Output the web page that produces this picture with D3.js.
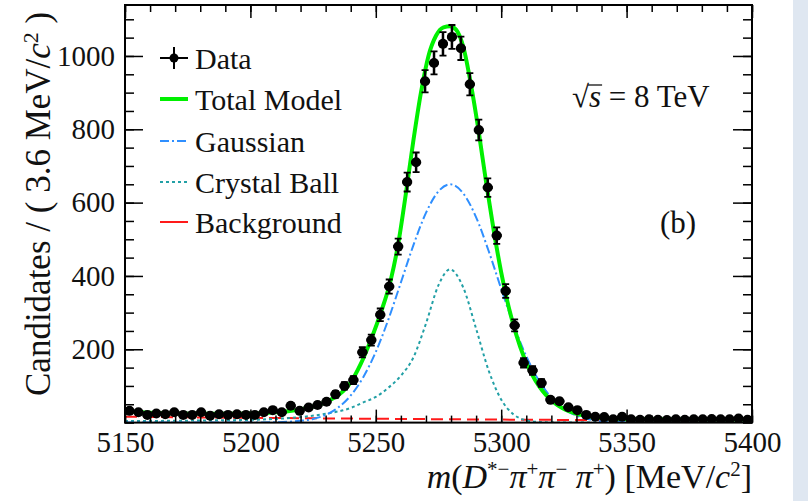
<!DOCTYPE html>
<html><head><meta charset="utf-8">
<script src="https://cdn.jsdelivr.net/npm/d3@7/dist/d3.min.js"></script>
<style>
body{margin:0;background:#fff;}
svg{display:block;}
text{font-family:"Liberation Serif","Times New Roman",serif;fill:#111;}
</style>
</head><body>
<svg id="c" width="808" height="501"></svg>
<script>
// ---------------- data ----------------
const massRange = [5150, 5400];
const nBins = 70;
const dataCounts = [32,28,21,25,23,28,21,21,28,19,
                    23,21,23,21,21,28,34,28,46,32,
                    41,48,57,77,100,116,192,225,294,371,
                    480,656,710,931,981,1033,1052,1021,923,798,
                    641,510,359,265,163,142,108,62,58,42,
                    34,21,16,15,9,16,9,8,9,8,
                    7,9,8,9,9,10,9,9,11,8];
const totalMass = [5150,5160,5170,5180,5190,5200,5205,5210,5215,5220,5225,5230,5234,5237,5240,5244,5248,5252,5256,5259,5262,5265,5268,5271,5274,5277,5279.6,5282,5285,5288,5291,5294,5297,5300,5303,5306,5309,5312,5315,5318,5321,5324,5327,5330,5334,5338,5342,5350,5370,5400];
const totalVals = [31,27,25,24,24,25,26,28,31,36,44,56,70,86,110,160,225,300,390,490,625,770,900,1000,1055,1078,1081,1072,1022,920,795,655,525,410,315,240,180,135,100,74,55,41,31,24,18,14,12,10,9,8];
const gaussMass = [5150,5195,5200,5210,5220,5225,5230,5235,5240,5245,5250,5255,5260,5265,5270,5275,5279.6,5285,5290,5295,5300,5305,5310,5315,5320,5325,5330,5335,5340,5350,5360,5400];
const gaussVals = [0,0,0.2,1,5,10,21,41,74,124,193,281,382,484,572,631,650,624,560,468,365,266,181,115,68,37,19,9,4,1,0,0];
const cbMass = [5150,5170,5190,5200,5210,5220,5230,5240,5245,5250,5255,5260,5265,5270,5275,5279.6,5285,5290,5295,5300,5305,5310,5315,5320,5330,5400];
const cbVals = [4,5,6.5,7.5,10,15,24,40,55,70,95,128,178,270,375,418,366,256,142,63,22,6,1.5,0.3,0,0];
const bkgMass = [5150,5200,5250,5300,5350,5400];
const bkgVals = [16,13,10.5,8.2,6.5,5.2];
const xTickVals = [5150,5200,5250,5300,5350,5400];
const yTickVals = [200,400,600,800,1000];
const legendLabels = ["Data","Total Model","Gaussian","Crystal Ball","Background"];

// ---------------- drawing ----------------
const svg = d3.select("#c");
const L = 125, R = 752, T = 5, B = 422.6;
const x = d3.scaleLinear().domain(massRange).range([L, R]);
const y = d3.scaleLinear().domain([0, 1139]).range([B, T]);

svg.append("rect").attr("x",793).attr("y",0).attr("width",15).attr("height",501).attr("fill","#dfe7f1");

svg.append("clipPath").attr("id","clip").append("rect")
  .attr("x",L).attr("y",T).attr("width",R-L).attr("height",B-T);
const plot = svg.append("g").attr("clip-path","url(#clip)");

function curve(ms, vs, color, width, dash){
  const pts = ms.map((m,i)=>[m, vs[i]]);
  plot.append("path").datum(pts)
    .attr("d", d3.line().x(d=>x(d[0])).y(d=>y(d[1])).curve(d3.curveMonotoneX))
    .attr("fill","none").attr("stroke",color).attr("stroke-width",width)
    .attr("stroke-dasharray",dash||null);
}
const colGreen = "#00f000", colBlue = "#2f8fff", colTeal = "#22a0a6", colRed = "#ff1a1a";
curve(bkgMass, bkgVals, colRed, 2, "12,6");
curve(cbMass, cbVals, colTeal, 2, "3,3");
curve(gaussMass, gaussVals, colBlue, 2, "9,3,2,3");
curve(totalMass, totalVals, colGreen, 4);

// data points
const bw = (massRange[1]-massRange[0])/nBins;
const pts = dataCounts.map((c,i)=>({m: massRange[0]+(i+0.5)*bw, lo: massRange[0]+i*bw, hi: massRange[0]+(i+1)*bw, c}));
const dg = plot.append("g");
pts.forEach(p=>{
  const e = Math.sqrt(p.c);
  const cx = x(p.m);
  const yt = y(p.c+e), yb = y(Math.max(0,p.c-e));
  dg.append("line").attr("x1",x(p.lo)-0.5).attr("x2",x(p.hi)+0.5).attr("y1",y(p.c)).attr("y2",y(p.c)).attr("stroke","#000").attr("stroke-width",3);
  dg.append("line").attr("x1",cx).attr("x2",cx).attr("y1",yt).attr("y2",yb).attr("stroke","#000").attr("stroke-width",2.5);
  dg.append("line").attr("x1",cx-3.5).attr("x2",cx+3.5).attr("y1",yt).attr("y2",yt).attr("stroke","#000").attr("stroke-width",1.8);
  dg.append("line").attr("x1",cx-3.5).attr("x2",cx+3.5).attr("y1",yb).attr("y2",yb).attr("stroke","#000").attr("stroke-width",1.8);
  dg.append("circle").attr("cx",cx).attr("cy",y(p.c)).attr("r",5).attr("fill","#000");
});

// axes
function styleAxis(g){ g.select(".domain").remove(); g.selectAll(".tick line").attr("stroke","#000").attr("stroke-width",1.5);
  g.selectAll("text").attr("font-size",29).attr("fill","#111").attr("font-family",'"Liberation Serif","Times New Roman",serif'); }
const minorX = d3.range(5150, 5401, 10), minorY = d3.range(0, 1139, 50);
svg.append("g").attr("transform",`translate(0,${B})`).call(d3.axisBottom(x).tickValues(xTickVals).tickSize(-13).tickPadding(9).tickFormat(d3.format("d"))).call(styleAxis);
svg.append("g").attr("transform",`translate(0,${B})`).call(d3.axisBottom(x).tickValues(minorX).tickSize(-7).tickFormat("")).call(styleAxis);
svg.append("g").attr("transform",`translate(0,${T})`).call(d3.axisTop(x).tickValues(xTickVals).tickSize(-13).tickFormat("")).call(styleAxis);
svg.append("g").attr("transform",`translate(0,${T})`).call(d3.axisTop(x).tickValues(minorX).tickSize(-7).tickFormat("")).call(styleAxis);
svg.append("g").attr("transform",`translate(${L},0)`).call(d3.axisLeft(y).tickValues(yTickVals).tickSize(-18).tickPadding(10).tickFormat(d3.format("d"))).call(styleAxis);
svg.append("g").attr("transform",`translate(${L},0)`).call(d3.axisLeft(y).tickValues(minorY).tickSize(-9).tickFormat("")).call(styleAxis);
svg.append("g").attr("transform",`translate(${R},0)`).call(d3.axisRight(y).tickValues(yTickVals).tickSize(-19).tickFormat("")).call(styleAxis);
svg.append("g").attr("transform",`translate(${R},0)`).call(d3.axisRight(y).tickValues(minorY).tickSize(-9).tickFormat("")).call(styleAxis);

svg.append("rect").attr("x",L).attr("y",T).attr("width",R-L).attr("height",B-T).attr("fill","none").attr("stroke","#000").attr("stroke-width",2);

// axis titles
const yt = svg.append("text").attr("transform","translate(50,396) rotate(-90)").attr("font-size",35).attr("text-anchor","start");
yt.append("tspan").text("Candidates / ( 3.6 MeV/");
yt.append("tspan").attr("font-style","italic").text("c");
yt.append("tspan").attr("font-size",22).attr("baseline-shift","super").text("2");
yt.append("tspan").text(" )");

const xt = svg.append("text").attr("x",752).attr("y",488).attr("font-size",34).attr("text-anchor","end");
xt.append("tspan").attr("font-style","italic").text("m");
xt.append("tspan").text("(");
xt.append("tspan").attr("font-style","italic").text("D");
xt.append("tspan").attr("font-size",21).attr("baseline-shift","super").text("*−");
xt.append("tspan").attr("font-style","italic").text("π");
xt.append("tspan").attr("font-size",21).attr("baseline-shift","super").text("+");
xt.append("tspan").attr("font-style","italic").text("π");
xt.append("tspan").attr("font-size",21).attr("baseline-shift","super").text("−");
xt.append("tspan").attr("font-style","italic").text(" π");
xt.append("tspan").attr("font-size",21).attr("baseline-shift","super").text("+");
xt.append("tspan").text(") [MeV/");
xt.append("tspan").attr("font-style","italic").text("c");
xt.append("tspan").attr("font-size",21).attr("baseline-shift","super").text("2");
xt.append("tspan").text("]");

// legend
const legY = [58, 99, 141, 182, 222];
const lg = svg.append("g");
legendLabels.forEach((lab,i)=>{
  lg.append("text").attr("x",195).attr("y",legY[i]).attr("dy","0.35em").attr("font-size",30).text(lab);
});
lg.append("line").attr("x1",160).attr("x2",188).attr("y1",legY[0]).attr("y2",legY[0]).attr("stroke","#000").attr("stroke-width",2);
lg.append("line").attr("x1",174).attr("x2",174).attr("y1",legY[0]-11).attr("y2",legY[0]+11).attr("stroke","#000").attr("stroke-width",2);
lg.append("circle").attr("cx",174).attr("cy",legY[0]).attr("r",4.5).attr("fill","#000");
lg.append("line").attr("x1",160).attr("x2",188).attr("y1",legY[1]).attr("y2",legY[1]).attr("stroke",colGreen).attr("stroke-width",4);
lg.append("line").attr("x1",160).attr("x2",188).attr("y1",legY[2]).attr("y2",legY[2]).attr("stroke",colBlue).attr("stroke-width",2).attr("stroke-dasharray","9,3,2,3");
lg.append("line").attr("x1",160).attr("x2",188).attr("y1",legY[3]).attr("y2",legY[3]).attr("stroke",colTeal).attr("stroke-width",2).attr("stroke-dasharray","3,3");
lg.append("line").attr("x1",160).attr("x2",188).attr("y1",legY[4]).attr("y2",legY[4]).attr("stroke",colRed).attr("stroke-width",2);

// annotations
const st = svg.append("text").attr("x",572).attr("y",107).attr("font-size",31);
st.append("tspan").text("√");
st.append("tspan").attr("font-style","italic").text("s");
st.append("tspan").text(" = 8 TeV");
const sx1 = st.node().getEndPositionOfChar(1).x;
svg.append("line").attr("x1", st.node().getEndPositionOfChar(0).x - 1).attr("x2", sx1+1).attr("y1",85).attr("y2",85).attr("stroke","#111").attr("stroke-width",1.3);

svg.append("text").attr("x",660).attr("y",233).attr("font-size",31).text("(b)");
</script>
</body></html>
